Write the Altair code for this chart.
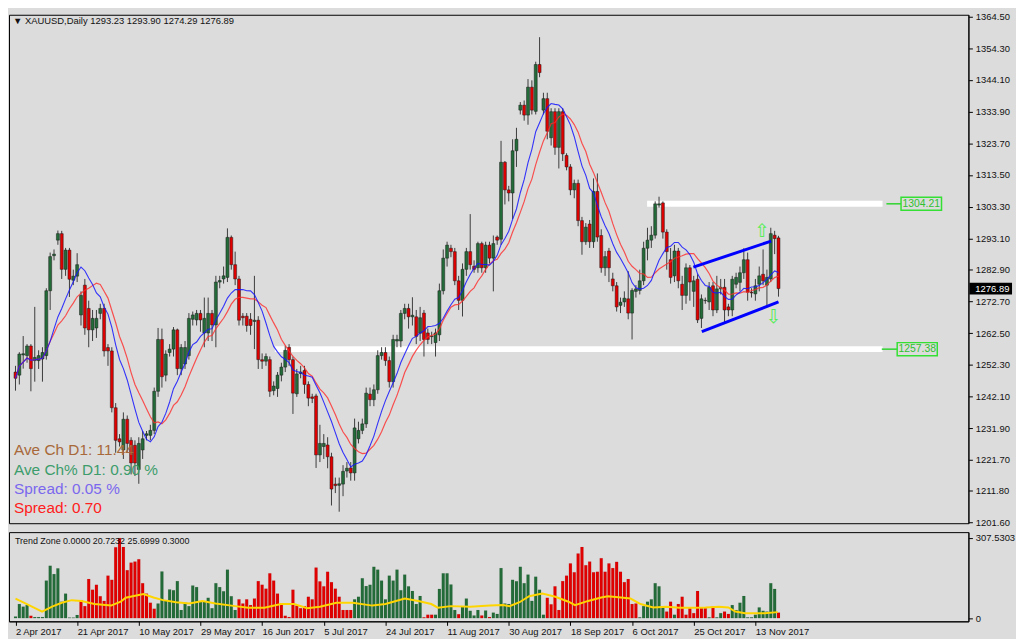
import json
import altair as alt
import pandas as pd

# ---------------- data ----------------
opens = [
    1250, 1249, 1255.5, 1255.3, 1258.4, 1253.7, 1253.7, 1254.2, 1255.3, 1276.2,
    1287.5, 1292.5, 1294.6, 1283.1, 1289.3, 1279.6, 1280.9, 1268.4, 1278, 1270.5,
    1263.6, 1264.2, 1268.9, 1270.5, 1257.9, 1256.8, 1238.5, 1228.5, 1224.9, 1234.8,
    1228, 1226.4, 1218.6, 1224.9, 1229.6, 1229.6, 1231.2, 1243.8, 1260.5, 1249,
    1256.3, 1257.4, 1263.6, 1251.1, 1252.6, 1255.3, 1267, 1266.8, 1268.9, 1262.6,
    1262.6, 1268.9, 1265.2, 1279, 1280, 1280.5, 1293.4, 1284.6, 1280, 1268,
    1268, 1267, 1266.3, 1266.7, 1254, 1253.5, 1254, 1244, 1244.7, 1249,
    1251.6, 1258, 1254, 1243, 1249.5, 1250.5, 1246, 1242, 1242.3, 1223.3,
    1226, 1226.5, 1222.7, 1213.9, 1213.5, 1213.9, 1218.1, 1219.1, 1217.5, 1228.5,
    1231.2, 1233.3, 1242.9, 1241.1, 1244.3, 1255.3, 1256.3, 1253.7, 1246.9, 1260,
    1260, 1268.9, 1270.5, 1267.8, 1267.8, 1262.5, 1269, 1262.6, 1261.4, 1259.5,
    1262, 1276.2, 1286.7, 1289.9, 1288.8, 1279.4, 1273.1, 1283.1, 1288.8, 1284.1,
    1283.6, 1291.4, 1283.6, 1290.9, 1286.7, 1293.5, 1292.8, 1317.6, 1308.7, 1307.7,
    1321.3, 1334.4, 1336, 1332.8, 1341.8, 1334, 1349.1, 1334.4, 1338.1, 1325.5,
    1333.9, 1322.4, 1333.9, 1319.8, 1316.1, 1308.7, 1310.8, 1298.8, 1292, 1297.7,
    1292, 1308.2, 1294, 1283.6, 1289, 1280, 1277.8, 1271.5, 1272.6, 1273.6,
    1269, 1276, 1276.3, 1279.4, 1289.9, 1292.5, 1294.1, 1303.8, 1304.5, 1295.1,
    1286.2, 1281, 1289, 1278.3, 1274.7, 1283.6, 1276, 1279.9, 1267.3, 1273,
    1272.6, 1277.8, 1270, 1276.8, 1277.3, 1271, 1270, 1278.3, 1278.9, 1282,
    1286.2, 1275.7, 1275.2, 1278.3, 1281.5, 1278, 1280, 1294.1, 1293.23,
]
highs = [
    1252, 1256.4, 1261.6, 1259, 1259, 1271, 1257, 1258, 1277, 1288.5,
    1289.5, 1295.6, 1295.5, 1290, 1290, 1283, 1288.3, 1276, 1280, 1273,
    1270, 1270, 1272, 1272, 1259, 1258, 1240, 1230, 1237, 1236,
    1229, 1228, 1229, 1231, 1231, 1233, 1245, 1264.2, 1264, 1257,
    1259, 1264.5, 1264, 1259, 1260, 1269, 1269.5, 1270, 1270, 1274,
    1274, 1270, 1281, 1281, 1284, 1296.3, 1294, 1288.8, 1281, 1269,
    1269, 1269, 1281, 1268, 1256, 1256, 1255, 1247, 1250, 1253,
    1258.5, 1259, 1255, 1251, 1252, 1252, 1247, 1243, 1243, 1233,
    1230, 1229, 1224, 1216, 1216, 1220, 1221, 1221, 1235, 1234,
    1235, 1245, 1245, 1246, 1257, 1258, 1258, 1255, 1262, 1262,
    1270, 1272, 1272, 1274.1, 1270, 1271, 1270, 1264, 1263, 1264,
    1278.5, 1289.5, 1292, 1291, 1290, 1281, 1285, 1290, 1300.9, 1286,
    1292, 1292, 1292, 1292, 1294, 1294, 1324.5, 1318, 1310, 1325,
    1328.7, 1337, 1337.5, 1344.4, 1344, 1350, 1357.9, 1340, 1340, 1335,
    1335, 1335, 1335, 1320.5, 1317, 1312, 1312, 1300, 1298, 1299,
    1312.4, 1314, 1296, 1289, 1290, 1282, 1279, 1274, 1276, 1282.5,
    1277, 1278, 1283, 1292, 1296.5, 1297, 1305, 1306.5, 1305, 1296,
    1290, 1291, 1290, 1281, 1285, 1284.5, 1281, 1281.5, 1275, 1274,
    1279, 1279, 1281, 1280, 1280, 1272, 1281, 1282, 1284, 1289.9,
    1288.5, 1277, 1280, 1284, 1289.5, 1283, 1296.5, 1295.5, 1293.9,
]
lows = [
    1244, 1246, 1251.1, 1253, 1243.8, 1246.9, 1251, 1246.9, 1254, 1270,
    1286, 1291, 1280, 1281, 1274.2, 1278, 1279, 1265, 1262, 1258,
    1260, 1261, 1267, 1255, 1252, 1237, 1224, 1226, 1222, 1224,
    1217, 1216.5, 1214, 1222, 1228, 1228, 1230, 1242, 1245, 1247,
    1255, 1255, 1249, 1249, 1251, 1254, 1265, 1265, 1263, 1258,
    1260, 1260, 1258, 1277, 1278.5, 1279, 1283, 1278, 1265, 1265,
    1263, 1262, 1257.4, 1251, 1251, 1252, 1242, 1242.5, 1242, 1247,
    1250, 1252, 1236.5, 1242, 1248, 1243, 1239, 1240, 1219.1, 1221,
    1222, 1219, 1207, 1211, 1205, 1210, 1216, 1215, 1215, 1227,
    1230, 1232, 1239, 1239, 1243, 1254, 1252, 1245, 1245, 1258,
    1258, 1267, 1264, 1265, 1259, 1260, 1255, 1259, 1259, 1255,
    1260, 1275, 1284, 1287, 1278, 1270, 1267.9, 1281, 1283, 1282,
    1282, 1282, 1282, 1285, 1276, 1291, 1291, 1304, 1305, 1299.3,
    1316.1, 1333, 1331, 1329.7, 1333, 1333, 1345, 1333, 1325, 1323,
    1320, 1315.6, 1318, 1315, 1307, 1306, 1297, 1287.8, 1291, 1290,
    1290, 1292, 1282, 1281, 1279, 1276, 1269.5, 1269, 1271, 1267,
    1260.5, 1274, 1275, 1278, 1286, 1290, 1293, 1303, 1293, 1283,
    1278.5, 1279, 1277, 1270, 1272, 1273, 1271, 1265.8, 1264.2, 1272,
    1270, 1268, 1269, 1275, 1265.8, 1268, 1268, 1277, 1276, 1280,
    1273, 1274, 1273, 1276, 1278, 1271.5, 1279, 1288, 1274.29,
]
closes = [
    1248, 1255.8, 1255.9, 1258.4, 1251.1, 1254.7, 1255.3, 1256.3, 1276.2, 1287.2,
    1288, 1294.6, 1283.1, 1289.3, 1279.9, 1280.9, 1284.6, 1274.7, 1264.2, 1263.6,
    1267.3, 1267.3, 1270.5, 1256.8, 1256.8, 1238.5, 1228, 1227.5, 1234.8, 1227,
    1220.7, 1220.7, 1227, 1228.5, 1230.1, 1231.2, 1243.8, 1260.5, 1248.5, 1255.8,
    1257.4, 1263.6, 1251.1, 1257.9, 1257.9, 1267.3, 1268.4, 1268.9, 1266.8, 1267.3,
    1268.9, 1265.2, 1279, 1279.5, 1281, 1293.4, 1284.6, 1280, 1266.7, 1267.5,
    1265, 1265, 1266.7, 1254, 1253.5, 1255, 1243.8, 1245.5, 1249, 1251.6,
    1257, 1254, 1243.2, 1249.4, 1250, 1246, 1241.6, 1241.5, 1223.3, 1227,
    1227, 1222.7, 1212.3, 1213.4, 1214, 1218, 1219, 1217.5, 1232, 1231.2,
    1233.3, 1243.2, 1241.1, 1244.3, 1255.3, 1256.3, 1253.7, 1246.9, 1260.5, 1260.5,
    1268.9, 1270.5, 1267.8, 1268.3, 1261.5, 1267.5, 1260.5, 1260.5, 1261.6, 1262.6,
    1276.2, 1286.7, 1290.9, 1288.8, 1279.4, 1273.1, 1283.1, 1288.8, 1284.6, 1283.1,
    1291.4, 1283.6, 1290.9, 1286.7, 1291.4, 1292.5, 1317.6, 1308.7, 1307.7, 1321.3,
    1325, 1336, 1332.8, 1341.8, 1334.4, 1349.1, 1346.5, 1338.1, 1327.6, 1333.9,
    1322.4, 1333.9, 1320.3, 1316.1, 1308.7, 1310.8, 1298.8, 1292, 1296.7, 1292,
    1308.2, 1293.5, 1283.6, 1287.2, 1283.6, 1277.8, 1271, 1272.5, 1273.8, 1269,
    1276.3, 1276.8, 1279.4, 1289.9, 1292.5, 1294.1, 1304.2, 1304.2, 1295.1, 1288.8,
    1280.5, 1289, 1279.4, 1274.7, 1283.6, 1279, 1279.4, 1266.8, 1273.6, 1273.1,
    1277.3, 1270, 1276.8, 1277.3, 1270, 1270, 1279.9, 1280.5, 1282, 1286.2,
    1275.7, 1275.5, 1277.8, 1281, 1279.4, 1280.5, 1294.6, 1293, 1276.89,
]

# Trend Zone histogram (value per bar) and its colour (g = green, r = red)
hist_vals = [
    6, 54, 44, 50, 9, 4, 4, 4, 144, 201,
    169, 191, 63, 94, 2, 2, 12, 69, 46, 150,
    109, 128, 84, 66, 163, 147, 272, 307, 273, 184,
    213, 217, 226, 134, 94, 59, 36, 56, 179, 66,
    110, 107, 142, 31, 59, 46, 125, 119, 63, 63,
    78, 38, 134, 119, 103, 186, 84, 31, 72, 56,
    72, 50, 75, 142, 128, 113, 172, 144, 94, 56,
    9, 4, 109, 48, 38, 46, 82, 72, 194, 141,
    122, 178, 138, 113, 82, 31, 31, 31, 72, 82,
    153, 123, 128, 197, 186, 144, 72, 163, 144, 186,
    107, 167, 122, 104, 54, 85, 3, 13, 13, 13,
    112, 172, 172, 129, 31, 15, 44, 75, 28, 10,
    31, 10, 29, 4, 21, 16, 192, 56, 54, 147,
    142, 197, 134, 167, 66, 159, 109, 13, 78, 53,
    122, 31, 142, 163, 210, 176, 248, 273, 203, 217,
    176, 178, 230, 178, 210, 192, 216, 178, 138, 150,
    54, 56, 3, 46, 63, 72, 134, 122, 44, 25,
    63, 13, 54, 82, 13, 38, 19, 104, 38, 38,
    3, 44, 3, 19, 25, 16, 50, 31, 59, 85,
    3, 3, 13, 41, 28, 25, 134, 112, 21,
]
hist_colors = (
    "ggggrggggg" "gggggggrrr" "rrrrrrrrrr" "rrrrrrrggg" "gggggggggg"
    "ggggggggrr" "rrrrrrrrrr" "rrrrrrrrrr" "rrrrrrrrgg" "gggggggggg"
    "ggggggrrrg" "gggggrgggg" "grgrgggggg" "ggggggggrr" "rrrrrrrrrr"
    "rrrrrrrrrr" "rrgggggggr" "rgrrrrrrrr" "grggrrgggg" "ggggggggr"
)

# yellow signal line of the Trend Zone panel (bar position, value)
yellow_pos = [0, 2.7, 6.9, 9.5, 12, 14.6, 17.1, 20.5, 24.8, 27.3, 28.6, 33.2, 35.8, 38.3,
              41.7, 45.1, 48.5, 51.9, 57, 60.4, 64.6, 68.9, 72.3, 75.7, 79, 83.3, 87.5,
              92.6, 96, 101, 104.5, 107.9, 109.6, 113, 118, 123.1, 126.5, 128.2, 130.8,
              133.3, 136.7, 140.1, 143.5, 145.2, 148.6, 152, 153.7, 157.1, 159.6, 162.2,
              165.5, 168.9, 172.3, 175.7, 179.1, 182.5, 185, 186.8, 189.3, 194.4, 197.8]
yellow_vals = [75, 56, 25, 44, 59, 69, 66, 54, 48, 63, 78, 92, 79, 69, 61, 56, 66, 56, 46,
               40, 40, 54, 54, 38, 44, 59, 59, 48, 54, 75, 66, 54, 40, 46, 44, 48, 50, 46,
               61, 84, 94, 82, 63, 50, 66, 79, 84, 79, 75, 54, 41, 44, 40, 40, 41, 44, 41,
               25, 19, 19, 23]

price_ticks = [1364.5, 1354.3, 1344.1, 1333.9, 1323.7, 1313.5, 1303.3, 1293.1, 1282.9,
               1272.7, 1262.5, 1252.3, 1242.1, 1231.9, 1221.7, 1211.8, 1201.6]
date_labels = ["2 Apr 2017", "21 Apr 2017", "10 May 2017", "29 May 2017", "16 Jun 2017",
               "5 Jul 2017", "24 Jul 2017", "11 Aug 2017", "30 Aug 2017", "18 Sep 2017",
               "6 Oct 2017", "25 Oct 2017", "13 Nov 2017"]
date_ticks = [16 * k for k in range(len(date_labels))]

level_prices = [1304.21, 1257.38]
level_labels = ["1304.21", "1257.38"]
level_start = [163.9, 67.3]
level_end = [225.0, 225.0]

channel_x = [175.9, 178.1]
channel_x2 = [196.1, 198.0]
channel_y = [1283.8, 1263.0]
channel_y2 = [1292.2, 1272.6]

arrow_x = [193.7, 196.7]
arrow_y = [1295.3, 1267.6]
arrow_t = ["\u21e7", "\u21e9"]

title_text = "\u25bc XAUUSD,Daily  1293.23 1293.90 1274.29 1276.89"
panel_text = "Trend Zone 0.0000 20.7232 25.6999 0.3000"
info_lines = ["Ave Ch D1: 11.44", "Ave Ch% D1: 0.90 %", "Spread: 0.05 %", "Spread: 0.70"]
info_colors = ["#a8683a", "#3c9c6c", "#7b68ee", "#ff2020"]
last_price = 1276.89

# ---------------- layout ----------------
W, H1, H2 = 968, 513, 90
FONT = "Liberation Sans"
GREEN, RED = "#236b38", "#e00000"

N = len(closes)
bars = pd.DataFrame({"i": list(range(N)), "o": opens, "h": highs, "l": lows, "c": closes})
bars["dir"] = ["up" if c >= o else "down" for o, c in zip(opens, closes)]

xscale = alt.Scale(domain=[-0.4, 246.0], nice=False, zero=False)
yscale = alt.Scale(domain=[1201.29, 1365.13], nice=False, zero=False)
yaxis = alt.Axis(orient="right", values=price_ticks, format=".2f", title=None, grid=False,
                 tickSize=4, tickColor="#000", domainColor="#000", labelColor="#111",
                 labelFont=FONT, labelFontSize=9.5, labelPadding=3)


def X(f="i"):
    return alt.X(f"{f}:Q", scale=xscale, axis=None)


def Y(f):
    return alt.Y(f"{f}:Q", scale=yscale, axis=yaxis)


base = alt.Chart(bars)

levels = pd.DataFrame({"x": level_start, "x2": level_end, "y": level_prices, "t": level_labels,
                       "lx": [226.0, 224.8], "lx2": [229.8, 228.8],
                       "bx": [229.8, 228.8], "bx2": [240.3, 239.2]})
levels["ylo"] = levels["y"] - 2.1
levels["yhi"] = levels["y"] + 2.1
levels["tx"] = (levels["bx"] + levels["bx2"]) / 2

white_lines = alt.Chart(levels).mark_rule(color="#ffffff", strokeWidth=6).encode(
    x=X("x"), x2="x2", y=Y("y"))
wicks = base.mark_rule(color="#3c3c3c", strokeWidth=1).encode(x=X(), y=Y("l"), y2="h")
bodies = base.mark_bar(size=3, stroke="#1b1b1b", strokeWidth=0.5).encode(
    x=X(), y=Y("o"), y2="c",
    color=alt.Color("dir:N", scale=alt.Scale(domain=["up", "down"], range=[GREEN, RED]),
                    legend=None))
ma_red = base.transform_window(ma="mean(c)", frame=[-13, 0], sort=[alt.SortField("i")]).mark_line(
    color="#ff2a2a", strokeWidth=1.2, opacity=0.8).encode(x=X(), y=Y("ma"))
ma_blue = base.transform_window(ma="mean(c)", frame=[-9, 0], sort=[alt.SortField("i")]).mark_line(
    color="#1414ff", strokeWidth=1.1, opacity=0.85).encode(x=X(), y=Y("ma"))

channel = alt.Chart(pd.DataFrame({"x": channel_x, "x2": channel_x2, "y": channel_y, "y2": channel_y2})
                    ).mark_rule(color="#0000ff", strokeWidth=3).encode(
    x=X("x"), x2="x2", y=Y("y"), y2="y2")
arrows = alt.Chart(pd.DataFrame({"x": arrow_x, "y": arrow_y, "t": arrow_t})).mark_text(
    font="DejaVu Sans", fontSize=19, color="#55ee55").encode(x=X("x"), y=Y("y"), text="t:N")

lead = alt.Chart(levels).mark_rule(color="#2ed42e", strokeWidth=1.5).encode(
    x=X("lx"), x2="lx2", y=Y("y"))
boxes = alt.Chart(levels).mark_rect(fillOpacity=0, stroke="#33e033", strokeWidth=1.5).encode(
    x=X("bx"), x2="bx2", y=Y("ylo"), y2="yhi")
box_text = alt.Chart(levels).mark_text(font=FONT, fontSize=10.5, color="#2fc02f").encode(
    x=X("tx"), y=Y("y"), text="t:N")

info = alt.Chart(pd.DataFrame({"t": info_lines, "col": info_colors, "py": [439, 459, 479, 498]})
                 ).mark_text(font=FONT, fontSize=15.5, align="left", baseline="middle").encode(
    x=alt.value(5), y=alt.Y("py:Q", scale=None, axis=None), text="t:N",
    color=alt.Color("col:N", scale=None, legend=None))

title = alt.Chart(pd.DataFrame({"t": [title_text]})).mark_text(
    font=FONT, fontSize=9.5, align="left", baseline="middle", color="#111").encode(
    x=alt.value(4), y=alt.value(6), text="t:N")

lp = pd.DataFrame({"p": [last_price], "t": [f"{last_price:.2f}"]})
lp["lo"] = lp["p"] - 1.9
lp["hi"] = lp["p"] + 1.9
lp_box = alt.Chart(lp).mark_rect(color="#000").encode(
    x=alt.value(W + 1), x2=alt.value(W + 44), y=Y("lo"), y2="hi")
lp_text = alt.Chart(lp).mark_text(font=FONT, fontSize=9.5, color="#fff", align="left").encode(
    x=alt.value(W + 7), y=Y("p"), text="t:N")

main = alt.layer(white_lines, wicks, bodies, ma_red, ma_blue, channel, arrows, lead, boxes,
                 box_text, info, title, lp_box, lp_text).properties(width=W, height=H1)

# ---------------- lower panel ----------------
hist = pd.DataFrame({"i": list(range(N)), "v": hist_vals, "col": list(hist_colors)})
yscale2 = alt.Scale(domain=[-12.4, 330.1], nice=False, zero=False)
yaxis2 = alt.Axis(orient="right", values=[0, 307.5303],
                  labelExpr="datum.value == 0 ? '0' : '307.5303'", title=None, grid=False,
                  tickSize=4, tickColor="#000", domainColor="#000", labelColor="#111",
                  labelFont=FONT, labelFontSize=9.5, labelPadding=3)
xaxis2 = alt.Axis(values=date_ticks, labelExpr=json.dumps(date_labels) + "[round(datum.value / 16)]",
                  labelAlign="left", labelPadding=1, tickSize=4, tickColor="#000",
                  domainColor="#000", grid=False, title=None, labelFont=FONT,
                  labelFontSize=9.5, labelColor="#111", labelFlush=False, labelOverlap=False)

hbars = alt.Chart(hist).mark_bar(size=3, stroke="#000", strokeOpacity=0.1, strokeWidth=0.5).encode(
    x=alt.X("i:Q", scale=xscale, axis=xaxis2),
    y=alt.Y("v:Q", scale=yscale2, axis=yaxis2, stack=None),
    y2=alt.datum(0),
    color=alt.Color("col:N", scale=alt.Scale(domain=["g", "r"], range=["#139613", "#ff0000"]),
                    legend=None))
yellow = alt.Chart(pd.DataFrame({"i": yellow_pos, "v": yellow_vals})).mark_line(
    color="#ffd500", strokeWidth=2).encode(
    x=alt.X("i:Q", scale=xscale, axis=xaxis2), y=alt.Y("v:Q", scale=yscale2, axis=yaxis2))
ptitle = alt.Chart(pd.DataFrame({"t": [panel_text]})).mark_text(
    font=FONT, fontSize=9, align="left", baseline="middle", color="#111").encode(
    x=alt.value(6), y=alt.value(9), text="t:N")

lower = alt.layer(hbars, yellow, ptitle).properties(width=W, height=H2)

chart = alt.vconcat(main, lower, spacing=3).resolve_scale(
    x="independent", y="independent").properties(padding=0).configure(
    background="#dcdcdc").configure_view(stroke="#000", strokeWidth=1, fill="#dcdcdc")

chart.save("out.html", embed_options={"renderer": "svg", "actions": False})
